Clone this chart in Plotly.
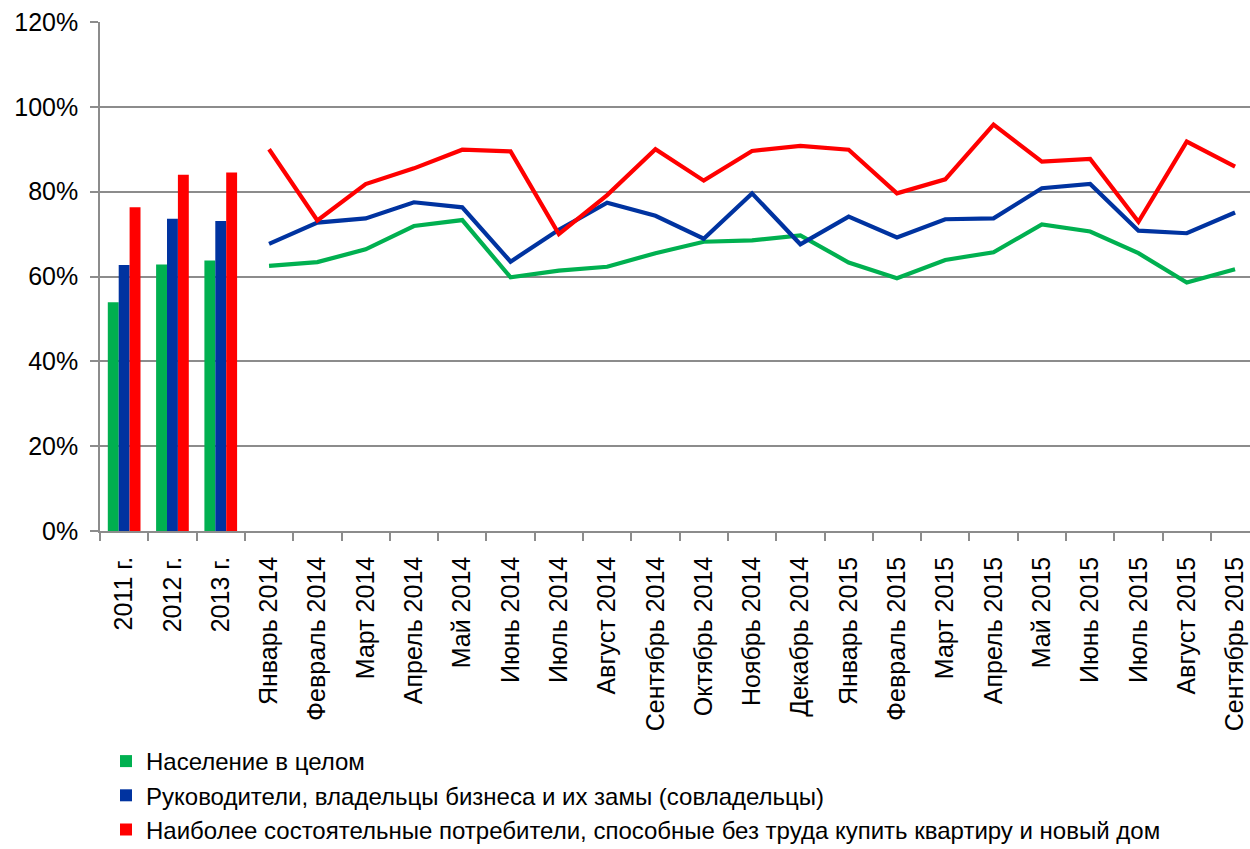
import plotly.graph_objects as go

categories = ["2011 г.", "2012 г.", "2013 г.",
              "Январь 2014", "Февраль 2014", "Март 2014", "Апрель 2014", "Май 2014",
              "Июнь 2014", "Июль 2014", "Август 2014", "Сентябрь 2014", "Октябрь 2014",
              "Ноябрь 2014", "Декабрь 2014", "Январь 2015", "Февраль 2015", "Март 2015",
              "Апрель 2015", "Май 2015", "Июнь 2015", "Июль 2015", "Август 2015",
              "Сентябрь 2015"]
year_cats = categories[:3]
month_cats = categories[3:]

series_names = ["Население в целом",
                "Руководители, владельцы бизнеса и их замы (совладельцы)",
                "Наиболее состоятельные потребители, способные без труда купить квартиру и новый дом"]

# yearly values (bars)
pop_years = [0.539, 0.628, 0.638]
biz_years = [0.627, 0.736, 0.731]
rich_years = [0.763, 0.840, 0.845]

# monthly values (lines), Jan 2014 - Sep 2015
pop_months = [0.625, 0.634, 0.664, 0.719, 0.733, 0.598, 0.614, 0.623, 0.655, 0.682,
              0.685, 0.697, 0.633, 0.596, 0.639, 0.657, 0.723, 0.706, 0.655, 0.586, 0.617]
biz_months = [0.677, 0.727, 0.737, 0.775, 0.763, 0.635, 0.710, 0.774, 0.743, 0.689,
              0.796, 0.676, 0.741, 0.692, 0.735, 0.737, 0.808, 0.818, 0.708, 0.702, 0.751]
rich_months = [0.900, 0.732, 0.818, 0.855, 0.899, 0.895, 0.700, 0.792, 0.900, 0.826,
               0.896, 0.908, 0.899, 0.796, 0.829, 0.958, 0.871, 0.877, 0.729, 0.918, 0.859]

colors = ["#00B050", "#0033A0", "#FF0000"]
year_vals = [pop_years, biz_years, rich_years]
month_vals = [pop_months, biz_months, rich_months]

FONT = "Liberation Sans, Arial, sans-serif"

fig = go.Figure()
for name, c, yv in zip(series_names, colors, year_vals):
    fig.add_trace(go.Bar(x=year_cats, y=yv, name=name, marker_color=c,
                         marker_line_width=0, legendgroup=name, showlegend=True))
for name, c, mv in zip(series_names, colors, month_vals):
    fig.add_trace(go.Scatter(x=month_cats, y=mv, name=name, mode="lines",
                             line=dict(color=c, width=4.2), legendgroup=name,
                             showlegend=False))

W, H = 1250, 849
left, top, bottom_px = 100, 22, 531
fig.update_layout(
    width=W, height=H,
    margin=dict(l=left, r=0, t=top, b=H - bottom_px, pad=0, autoexpand=False),
    paper_bgcolor="white", plot_bgcolor="white",
    barmode="group", bargap=0.323, bargroupgap=0,
    font=dict(family=FONT, size=24, color="black"),
    legend=dict(orientation="v", xref="container", yref="container",
                x=106 / W, y=1 - 739 / H, xanchor="left", yanchor="top",
                font=dict(family=FONT, size=24, color="black"),
                bgcolor="rgba(0,0,0,0)", traceorder="normal",
                itemwidth=30, tracegroupgap=8),
    showlegend=True,
)
fig.update_xaxes(
    type="category", categoryorder="array", categoryarray=categories,
    range=[-0.5, -0.5 + (W - left) / 48.3], automargin=False,
    tickangle=-90, tickson="boundaries", ticks="outside", ticklen=8,
    tickcolor="#8c8c8c", tickwidth=1.5,
    showline=True, linecolor="#8c8c8c", linewidth=1.5,
    showgrid=False, tickfont=dict(family=FONT, size=25, color="black"),
    ticklabelstandoff=14,
)
fig.update_yaxes(
    range=[0, 1.2], dtick=0.2, tickformat=".0%", automargin=False,
    ticks="outside", ticklen=8, tickcolor="#8c8c8c", tickwidth=1.5,
    showline=True, linecolor="#8c8c8c", linewidth=1.5,
    showgrid=True, gridcolor="#8c8c8c", gridwidth=1.5,
    zeroline=False, tickfont=dict(family=FONT, size=25, color="black"),
    ticklabelstandoff=7,
)

fig.write_html("out.html", config={"displayModeBar": False},
               post_script="document.body.style.margin='0';"
                           "document.body.style.overflow='hidden';")
